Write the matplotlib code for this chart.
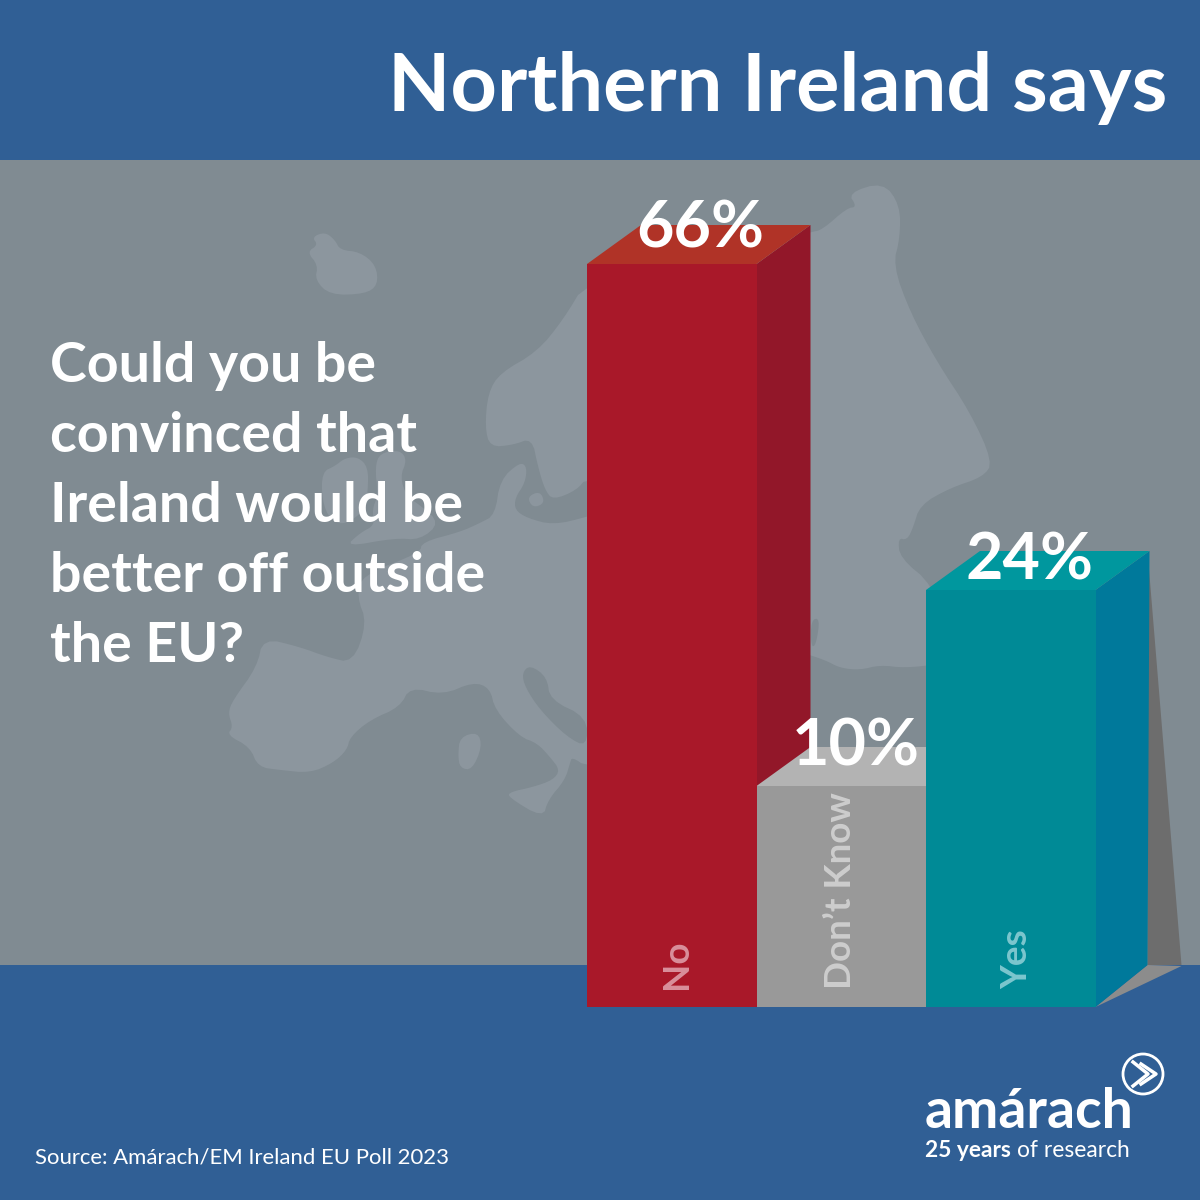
import numpy as np
import matplotlib
matplotlib.use("Agg")
import matplotlib.pyplot as plt
from matplotlib.patches import Circle

# data
categories = ["No", "Don’t Know", "Yes"]
values = [66, 10, 24]
bar_heights = [743, 221, 417]  # drawn heights, the bars are not to scale
question = ["Could you be", "convinced that", "Ireland would be", "better off outside", "the EU?"]

BLUE = "#305f95"
SEA = "#808b92"
LAND = "#8c969e"
front = ["#a91829", "#999999", "#008a96"]
side = ["#921729", "#8a8a8a", "#00799b"]
top = ["#b03327", "#b3b3b3", "#00979e"]
label_col = ["#d98f9b", "#cdcdcd", "#7cc6ce"]

BASE = 1007
LEFT = 587
W = 169.5
DX, DY = 54, 39
FONT = "Lato"

# map outline in picture pixels
mainland = [
    (587, 280), (700, 262), (811, 232), (822, 230), (847, 208), (857, 207), (848, 193), (883, 182), (900, 205),
    (900, 238), (893, 265), (910, 312), (937, 362), (970, 412), (993, 462), (983, 477), (950, 488),
    (920, 505), (913, 528), (907, 540), (898, 538), (900, 558), (933, 585), (950, 640), (940, 664),
    (905, 668), (880, 665), (860, 670), (840, 668), (825, 660), (800, 652), (650, 760), (587, 767),
    (572, 757), (570, 763), (565, 780), (548, 800), (543, 818), (508, 797), (510, 792), (533, 787),
    (553, 780), (560, 770), (550, 757), (537, 743), (520, 737), (495, 710), (490, 688), (473, 682),
    (443, 695), (410, 687), (400, 707), (370, 720), (350, 737), (347, 750), (333, 763), (310, 773),
    (280, 770), (258, 767), (250, 747), (227, 735), (233, 727), (228, 713), (233, 700), (257, 667),
    (263, 638), (300, 647), (327, 657), (353, 663), (367, 623), (357, 597), (362, 575), (420, 553),
    (422, 542), (460, 532), (480, 523), (495, 515), (500, 480), (520, 462), (527, 467), (525, 483),
    (515, 498), (515, 510), (527, 518), (553, 525), (587, 517), (640, 500), (587, 477), (577, 490),
    (553, 500), (545, 490), (538, 467), (532, 438), (513, 445), (490, 447), (485, 427), (488, 393),
    (500, 373), (537, 352), (563, 320),
]
iceland = [(307, 252), (318, 245), (312, 237), (325, 232), (335, 240), (340, 250), (360, 252), (376, 265),
           (378, 285), (365, 294), (330, 295), (315, 280), (318, 265)]
ireland = [(322, 472), (335, 466), (345, 458), (358, 457), (368, 467), (368, 490), (365, 510), (345, 525),
           (330, 520), (322, 500)]
britain = [(375, 467), (380, 453), (400, 450), (407, 460), (400, 477), (407, 497), (420, 505), (440, 523),
           (420, 540), (395, 538), (345, 547), (360, 533), (375, 525), (372, 510), (378, 495)]
corsica = [(460, 737), (478, 732), (482, 747), (472, 770), (460, 768), (458, 755)]
gotland = [(527, 497), (540, 491), (545, 503), (533, 508)]
adriatic = [(522, 673), (530, 665), (547, 677), (550, 700), (587, 717), (587, 747), (567, 737), (540, 710), (525, 687)]
aegean = [(811, 620), (820, 618), (816, 645), (811, 647)]


def smooth(pts, rounds=2):
    # corner cutting so the coast is not all straight lines
    p = np.array(pts, dtype=float)
    for _ in range(rounds):
        q = np.roll(p, -1, axis=0)
        p = np.column_stack([0.75 * p + 0.25 * q, 0.25 * p + 0.75 * q]).reshape(-1, 2)
    return p


fig = plt.figure(figsize=(12, 12), dpi=100)
ax = fig.add_axes([0, 0, 1, 1])
ax.set_xlim(0, 1200)
ax.set_ylim(1200, 0)
ax.axis("off")

# backdrop
ax.fill([0, 1200, 1200, 0], [0, 0, 1200, 1200], color=SEA, lw=0, zorder=0)
ax.fill([0, 1200, 1200, 0], [0, 0, 160, 160], color=BLUE, lw=0, zorder=3)
ax.fill([0, 1200, 1200, 0], [965, 965, 1200, 1200], color=BLUE, lw=0, zorder=3)

for shape in [mainland, iceland, ireland, britain, corsica, gotland]:
    p = smooth(shape)
    ax.fill(p[:, 0], p[:, 1], color=LAND, lw=0, zorder=1)
for shape in [adriatic, aegean]:
    p = smooth(shape)
    ax.fill(p[:, 0], p[:, 1], color=SEA, lw=0, zorder=2)

# shadow behind the last bar
x_end = LEFT + 3 * W
top_yes = BASE - bar_heights[2]
ax.fill([x_end + DX - 2, x_end + 86, x_end + DX - 2], [top_yes - DY, 965, 965], color="#6d6d6d", lw=0, zorder=4)
ax.fill([x_end, x_end + DX - 2, x_end + 86], [BASE, 965, 966], color="#8c8c8c", lw=0, zorder=4)

# bars, back to front: side, top, then the face
xs = [LEFT + i * W for i in range(3)]
for i in [0, 2, 1]:
    x0 = xs[i]
    x1 = x0 + W
    t = BASE - bar_heights[i]
    ax.fill([x1, x1 + DX, x1 + DX - (2 if i == 2 else 0), x1], [t, t - DY, 965, BASE], color=side[i], lw=0, zorder=5 + (i == 1))
    ax.fill([x0, x0 + DX, x1 + DX, x1], [t, t - DY, t - DY, t], color=top[i], lw=0, zorder=5 + (i == 1))
bars = ax.bar(xs, bar_heights, width=W, bottom=[BASE - h for h in bar_heights], align="edge", color=front, lw=0, zorder=7)

pct_x = [700, 856, 1030]
pct_y = [248, 766, 580]
for v, px, py in zip(values, pct_x, pct_y):
    ax.text(px, py, f"{v}%", color="white", fontsize=46.5, fontweight="bold", family=FONT, ha="center", va="baseline", zorder=9)

lab_x = [687, 851, 1027]
for c, lx, col in zip(categories, lab_x, label_col):
    ax.text(lx, 989, c, color=col, fontsize=26.5, fontweight="bold", family=FONT, rotation=90, rotation_mode="anchor",
            ha="left", va="baseline", zorder=9)

# header and question
ax.text(1167, 111, "Northern Ireland says", color="white", fontsize=58.3, fontweight="bold", family=FONT, ha="right", va="baseline", zorder=9)
for i, line in enumerate(question):
    ax.text(50, 382 + i * 70, line, color="white", fontsize=40, fontweight="bold", family=FONT, ha="left", va="baseline", zorder=9)

ax.text(35, 1164, "Source: Amárach/EM Ireland EU Poll 2023", color="white", fontsize=15.9, family=FONT, ha="left", va="baseline", zorder=9)

# logo
ax.text(925, 1128, "amárach", color="white", fontsize=39.8, fontweight="bold", family=FONT, ha="left", va="baseline", zorder=9)
ax.text(925, 1157, "25 years", color="white", fontsize=16.4, fontweight="bold", family=FONT, ha="left", va="baseline", zorder=9)
ax.text(1130, 1157, "of research", color="white", fontsize=16.4, family=FONT, ha="right", va="baseline", zorder=9)
ax.add_patch(Circle((1143, 1074), 20, fill=False, ec="white", lw=2, zorder=9))
ax.plot([1133, 1148, 1133], [1062, 1074, 1086], color="white", lw=2.5, zorder=9)
ax.plot([1141, 1156, 1141], [1064, 1074, 1084], color="white", lw=2.5, zorder=9)

fig.savefig("out.png", dpi=100)
